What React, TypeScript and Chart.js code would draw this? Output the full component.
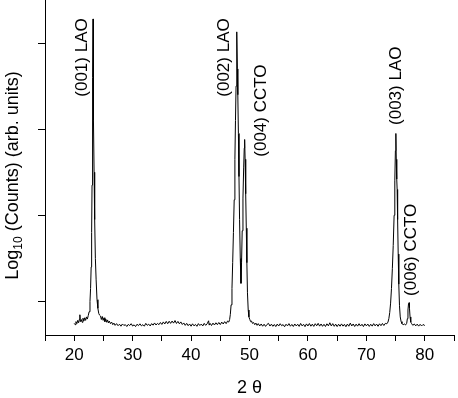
import { useEffect, useRef } from "react";
import { Chart, registerables } from "chart.js";

Chart.register(...registerables);

const FONT = '"Liberation Sans", Arial, Helvetica, sans-serif';

// x-axis (2θ, degrees)
const xMin = 15;
const xMax = 85;
const xTickValues = [15, 20, 25, 30, 35, 40, 45, 50, 55, 60, 65, 70, 75, 80, 85];
const xLabelledTicks = [20, 30, 40, 50, 60, 70, 80];

// y-axis (log10 counts, arbitrary units)
const yMin = 0.61;
const yMax = 4.5;
const yTickValues = [1, 2, 3, 4];

// scan: [2θ, log10(counts)]
const lowAngleScan: [number, number][] = [
  [20.0, 0.745], [20.15, 0.73], [20.3, 0.765], [20.45, 0.742], [20.6, 0.78], [20.75, 0.752],
  [20.9, 0.795], [20.97, 0.845], [21.05, 0.765], [21.2, 0.79], [21.35, 0.758], [21.5, 0.805],
  [21.65, 0.772], [21.8, 0.81], [21.95, 0.78], [22.1, 0.82], [22.25, 0.795], [22.4, 0.835],
  [22.55, 0.88], [22.7, 1.0], [22.8, 1.15], [22.9, 1.4], [22.98, 1.8], [23.05, 2.35],
  [23.12, 3.0], [23.17, 3.6], [23.22, 4.28], [23.27, 3.7], [23.32, 3.1], [23.4, 2.5],
  [23.5, 1.95], [23.62, 1.5], [23.75, 1.25], [23.9, 1.02], [24.05, 0.92], [24.2, 0.86],
  [24.35, 0.84], [24.5, 0.83], [24.65, 0.79], [24.8, 0.825], [24.95, 0.78], [25.1, 0.81],
  [25.25, 0.765], [25.4, 0.795], [25.55, 0.758], [25.7, 0.785], [25.85, 0.75], [26.0, 0.772],
  [26.2, 0.742], [26.4, 0.76], [26.6, 0.73], [26.8, 0.748], [27.0, 0.722],
];

const baselineScan: [number, number][] = [
  [27.25, 0.742], [27.5, 0.718], [27.75, 0.735], [28.0, 0.712], [28.25, 0.738], [28.5, 0.721],
  [28.75, 0.73], [29.0, 0.709], [29.25, 0.733], [29.5, 0.72], [29.75, 0.741], [30.0, 0.714],
  [30.25, 0.728], [30.5, 0.708], [30.75, 0.735], [31.0, 0.719], [31.25, 0.74], [31.5, 0.716],
  [31.75, 0.73], [32.0, 0.712], [32.25, 0.745], [32.5, 0.722], [32.75, 0.736], [33.0, 0.715],
  [33.25, 0.742], [33.5, 0.724], [33.75, 0.75], [34.0, 0.726], [34.25, 0.745], [34.5, 0.73],
  [34.75, 0.755], [35.0, 0.733], [35.25, 0.762], [35.5, 0.738], [35.75, 0.768], [36.0, 0.741],
  [36.25, 0.77], [36.5, 0.745], [36.75, 0.772], [37.0, 0.748], [37.25, 0.778], [37.5, 0.744],
  [37.75, 0.768], [38.0, 0.74], [38.25, 0.762], [38.5, 0.732], [38.75, 0.75], [39.0, 0.722],
  [39.25, 0.745], [39.5, 0.718], [39.75, 0.738], [40.0, 0.712], [40.25, 0.74], [40.5, 0.716],
  [40.75, 0.733], [41.0, 0.711], [41.25, 0.742], [41.5, 0.72], [41.75, 0.737], [42.0, 0.715],
  [42.25, 0.745], [42.5, 0.722], [42.75, 0.74], [43.0, 0.775], [43.1, 0.725], [43.25, 0.745],
  [43.5, 0.72], [43.75, 0.748], [44.0, 0.726], [44.25, 0.752], [44.5, 0.73], [44.75, 0.755],
  [45.0, 0.731], [45.25, 0.76], [45.5, 0.738], [45.75, 0.765], [46.0, 0.742], [46.25, 0.772],
  [46.45, 0.76],
];

const midAngleScan: [number, number][] = [
  [46.6, 0.79], [46.72, 0.85], [46.85, 0.96], [47.0, 1.15], [47.12, 1.45], [47.25, 1.8],
  [47.38, 2.18], [47.5, 2.65], [47.6, 3.1], [47.7, 3.5], [47.78, 3.85], [47.86, 4.13],
  [47.93, 3.7], [48.0, 3.4], [48.1, 2.95], [48.2, 2.45], [48.3, 1.95], [48.42, 1.5],
  [48.54, 1.21], [48.64, 1.45], [48.75, 1.82], [48.88, 2.2], [49.0, 2.55], [49.1, 2.78],
  [49.17, 2.88], [49.25, 2.65], [49.35, 2.25], [49.45, 1.85], [49.55, 1.45], [49.65, 1.1],
  [49.78, 0.9], [49.9, 0.82], [50.05, 0.79], [50.2, 0.765], [50.35, 0.772], [50.5, 0.745],
  [50.7, 0.755], [50.9, 0.73],
];

const highAngleScan: [number, number][] = [
  [51.1, 0.748], [51.3, 0.722], [51.5, 0.742], [51.75, 0.715], [52.0, 0.738], [52.25, 0.712],
  [52.5, 0.735], [52.75, 0.71], [53.0, 0.733], [53.25, 0.745], [53.5, 0.714], [53.75, 0.736],
  [54.0, 0.711], [54.25, 0.732], [54.5, 0.708], [54.75, 0.737], [55.0, 0.714], [55.25, 0.741],
  [55.5, 0.718], [55.75, 0.731], [56.0, 0.706], [56.25, 0.735], [56.5, 0.716], [56.75, 0.742],
  [57.0, 0.712], [57.25, 0.733], [57.5, 0.709], [57.75, 0.738], [58.0, 0.715], [58.25, 0.735],
  [58.5, 0.71], [58.75, 0.744], [59.0, 0.716], [59.25, 0.734], [59.5, 0.707], [59.75, 0.739],
  [60.0, 0.715], [60.25, 0.743], [60.5, 0.712], [60.75, 0.736], [61.0, 0.71], [61.25, 0.741],
  [61.5, 0.717], [61.75, 0.745], [62.0, 0.713], [62.25, 0.738], [62.5, 0.711], [62.75, 0.734],
  [63.0, 0.709], [63.25, 0.74], [63.5, 0.716], [63.75, 0.752], [64.0, 0.715], [64.25, 0.742],
  [64.5, 0.711], [64.75, 0.736], [65.0, 0.708], [65.25, 0.735], [65.5, 0.712], [65.75, 0.739],
  [66.0, 0.713], [66.25, 0.734], [66.5, 0.706], [66.75, 0.737], [67.0, 0.712], [67.25, 0.748],
  [67.5, 0.715], [67.75, 0.738], [68.0, 0.709], [68.25, 0.736], [68.5, 0.713], [68.75, 0.741],
  [69.0, 0.714], [69.25, 0.735], [69.5, 0.708], [69.75, 0.739], [70.0, 0.716], [70.25, 0.737],
  [70.5, 0.71], [70.75, 0.735], [71.0, 0.713], [71.25, 0.742], [71.5, 0.716], [71.75, 0.737],
  [72.0, 0.711], [72.25, 0.74], [72.5, 0.718], [72.75, 0.744], [73.0, 0.72], [73.25, 0.745],
  [73.5, 0.74], [73.7, 0.76], [73.85, 0.8], [74.0, 0.87], [74.15, 0.98], [74.3, 1.15],
  [74.45, 1.38], [74.6, 1.65], [74.75, 2.0], [74.87, 2.4], [74.97, 2.75], [75.05, 2.95],
  [75.12, 2.65], [75.2, 2.42], [75.27, 2.3], [75.35, 1.95], [75.45, 1.55], [75.55, 1.2],
  [75.67, 0.95], [75.8, 0.82], [75.95, 0.765], [76.1, 0.742], [76.3, 0.728], [76.5, 0.738],
  [76.7, 0.726], [76.9, 0.745], [77.02, 0.8], [77.12, 0.9], [77.22, 0.975], [77.3, 0.985],
  [77.38, 0.92], [77.48, 0.82], [77.6, 0.76], [77.75, 0.742], [77.95, 0.722], [78.2, 0.738],
  [78.45, 0.716], [78.7, 0.736], [78.95, 0.713], [79.2, 0.734], [79.45, 0.715], [79.7, 0.732],
  [80.0, 0.72],
];

// peak annotations: text, 2θ of label centre, log value where the label starts
const peakLabels = ["(001) LAO", "(002) LAO", "(004) CCTO", "(003) LAO", "(006) CCTO"];
const peakLabelAngles = [21.37, 45.77, 51.97, 75.17, 77.72];
const peakLabelBases = [3.377, 3.377, 2.68, 3.049, 1.063];

const xTitle = "2 θ";
const yTitleMain = "Log";
const yTitleSub = "10";
const yTitleRest = " (Counts) (arb. units)";

export default function App() {
  const canvasRef = useRef<HTMLCanvasElement | null>(null);

  useEffect(() => {
    const canvas = canvasRef.current;
    if (!canvas) return;
    const points = [...lowAngleScan, ...baselineScan, ...midAngleScan, ...highAngleScan].map(
      ([x, y]) => ({ x, y })
    );

    const textPlugin = {
      id: "xrdText",
      afterDraw(chart: any) {
        const { ctx, scales } = chart;
        const xs = scales.x;
        const ys = scales.y;
        ctx.save();
        ctx.fillStyle = "#000";
        // peak labels
        ctx.font = `17px ${FONT}`;
        ctx.textAlign = "left";
        ctx.textBaseline = "middle";
        peakLabels.forEach((label, i) => {
          ctx.save();
          ctx.translate(xs.getPixelForValue(peakLabelAngles[i]), ys.getPixelForValue(peakLabelBases[i]));
          ctx.rotate(-Math.PI / 2);
          ctx.fillText(label, 0, 0);
          ctx.restore();
        });
        // y-axis title with subscript
        ctx.textBaseline = "alphabetic";
        const mainFont = `18px ${FONT}`;
        const subFont = `12px ${FONT}`;
        ctx.font = mainFont;
        const w1 = ctx.measureText(yTitleMain).width;
        const w3 = ctx.measureText(yTitleRest).width;
        ctx.font = subFont;
        const w2 = ctx.measureText(yTitleSub).width;
        const total = w1 + w2 + w3;
        const centerY = (chart.chartArea.top + chart.chartArea.bottom) / 2 + 8;
        ctx.save();
        ctx.rotate(-Math.PI / 2);
        let rx = -(centerY + total / 2);
        ctx.font = mainFont;
        ctx.fillText(yTitleMain, rx, 18);
        rx += w1;
        ctx.font = subFont;
        ctx.fillText(yTitleSub, rx, 21.5);
        rx += w2;
        ctx.font = mainFont;
        ctx.fillText(yTitleRest, rx, 18);
        ctx.restore();
        ctx.restore();
      },
    };

    const chart = new Chart(canvas, {
      type: "line",
      data: {
        datasets: [
          {
            data: points,
            borderColor: "#000",
            borderWidth: 1,
            pointRadius: 0,
            tension: 0,
            fill: false,
          },
        ],
      },
      options: {
        animation: false,
        responsive: false,
        events: [],
        layout: { padding: { top: 0, right: 1, bottom: 0, left: 0 } },
        plugins: { legend: { display: false }, tooltip: { enabled: false }, title: { display: false } },
        scales: {
          x: {
            type: "linear",
            min: xMin,
            max: xMax,
            afterBuildTicks: (s: any) => {
              s.ticks = xTickValues.map((value) => ({ value }));
            },
            afterFit: (s: any) => {
              s.height = 63;
            },
            ticks: {
              autoSkip: false,
              maxRotation: 0,
              padding: 4,
              color: "#000",
              font: { size: 17, family: FONT },
              callback: (v: any) => (xLabelledTicks.includes(Number(v)) ? String(v) : ""),
            },
            grid: { display: true, drawOnChartArea: false, drawTicks: true, tickLength: 6, color: "#000" },
            border: { display: true, color: "#000", width: 1 },
            title: {
              display: true,
              text: xTitle,
              color: "#000",
              font: { size: 18, family: FONT },
              padding: { top: 0, bottom: -1 },
            },
          },
          y: {
            type: "linear",
            min: yMin,
            max: yMax,
            afterBuildTicks: (s: any) => {
              s.ticks = yTickValues.map((value) => ({ value }));
            },
            afterFit: (s: any) => {
              s.width = 45;
            },
            ticks: { display: false },
            grid: { display: true, drawOnChartArea: false, drawTicks: true, tickLength: 7, color: "#000" },
            border: { display: true, color: "#000", width: 1 },
          },
        },
      },
      plugins: [textPlugin],
    });
    return () => chart.destroy();
  }, []);

  return (
    <div style={{ position: "fixed", left: 0, top: 0, width: 458, height: 398, background: "#fff" }}>
      <canvas ref={canvasRef} width={458} height={398} style={{ display: "block", width: 458, height: 398 }} />
    </div>
  );
}
